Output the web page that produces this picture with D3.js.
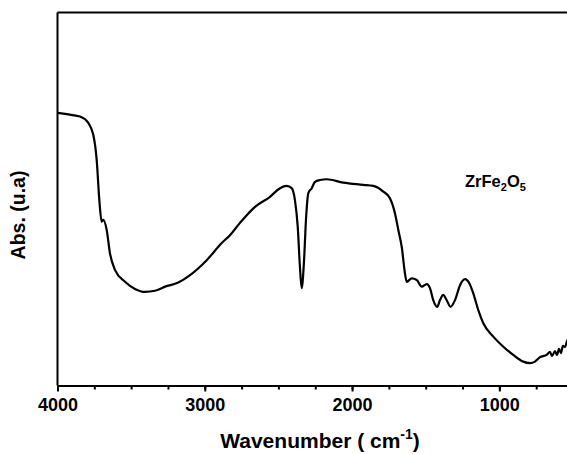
<!DOCTYPE html>
<html>
<head>
<meta charset="utf-8">
<script src="https://cdn.jsdelivr.net/npm/d3@7"></script>
<style>
  body { margin: 0; background: #fff; overflow: hidden; }
  svg { display: block; font-family: "Liberation Sans", Arial, sans-serif; font-weight: bold; }
</style>
</head>
<body>
<div id="chart"></div>
<script>
// FTIR spectrum of ZrFe2O5 (absorbance in arbitrary units)
const wavenumber = [4000, 3949, 3847, 3791, 3757, 3734, 3716, 3700, 3689, 3666, 3644, 3610, 3542, 3474, 3406, 3338, 3270, 3180, 3100, 2987, 2885, 2829, 2761, 2659, 2557, 2489, 2444, 2410, 2388, 2369, 2354, 2342, 2326, 2313, 2297, 2274, 2252, 2218, 2172, 2060, 1924, 1856, 1788, 1743, 1709, 1686, 1663, 1641, 1629, 1595, 1561, 1527, 1493, 1471, 1449, 1422, 1403, 1381, 1358, 1331, 1301, 1267, 1233, 1204, 1177, 1143, 1109, 1041, 973, 906, 838, 792, 758, 724, 679, 656, 643, 622, 609, 595, 582, 568, 554, 541, 530];
const absorbance = [73.1, 72.8, 72.1, 70.4, 67.2, 60.5, 49.7, 43.9, 44.4, 41.7, 35.5, 31.0, 27.8, 25.9, 25.1, 25.4, 26.5, 27.6, 29.6, 33.6, 38.2, 40.3, 43.6, 47.9, 50.6, 52.9, 53.5, 52.9, 49.7, 42.6, 31.8, 26.1, 33.6, 44.4, 51.6, 52.9, 54.6, 55.1, 55.3, 54.4, 53.8, 53.5, 52.0, 50.2, 46.2, 41.7, 37.2, 30.1, 27.8, 28.7, 28.3, 26.5, 27.2, 26.1, 22.9, 21.1, 22.9, 24.3, 22.9, 21.1, 22.9, 26.9, 28.5, 27.4, 24.7, 20.2, 16.7, 13.1, 10.4, 8.2, 6.4, 6.0, 6.4, 7.6, 8.2, 9.0, 7.9, 9.2, 8.2, 9.8, 8.7, 10.6, 10.3, 11.9, 12.5];
const majorTicks = [4000, 3000, 2000, 1000];
const minorTicks = d3.range(4000, 499, -250);

const width = 567, height = 454;
const margin = { top: 12.5, right: -6, bottom: 68.5, left: 57.5 };

const svg = d3.select("#chart").append("svg")
  .attr("width", width)
  .attr("height", height);

const x = d3.scaleLinear()
  .domain([4000, 500])
  .range([margin.left, width - margin.right]);

const y = d3.scaleLinear()
  .domain([0, 100])
  .range([height - margin.bottom, margin.top]);

const data = wavenumber.map((w, i) => ({ w: w, a: absorbance[i] }));

// spectrum
svg.append("path")
  .datum(data)
  .attr("fill", "none")
  .attr("stroke", "#000")
  .attr("stroke-width", 2.2)
  .attr("stroke-linejoin", "round")
  .attr("d", d3.line().x(d => x(d.w)).y(d => y(d.a)).curve(d3.curveMonotoneX));

// frame: top and left lines
svg.append("line")
  .attr("x1", x(4000)).attr("x2", x(500))
  .attr("y1", y(100)).attr("y2", y(100))
  .attr("stroke", "#000").attr("stroke-width", 2);
svg.append("line")
  .attr("x1", x(4000)).attr("x2", x(4000))
  .attr("y1", y(100)).attr("y2", y(0))
  .attr("stroke", "#000").attr("stroke-width", 2);

// minor ticks
svg.append("g")
  .attr("transform", `translate(0,${y(0)})`)
  .call(d3.axisBottom(x).tickValues(minorTicks).tickSize(4).tickFormat(""))
  .call(g => g.select(".domain").remove())
  .call(g => g.selectAll("line").attr("stroke-width", 2));

// x axis with major ticks
svg.append("g")
  .attr("transform", `translate(0,${y(0)})`)
  .call(d3.axisBottom(x).tickValues(majorTicks).tickSize(6).tickSizeOuter(0).tickPadding(7).tickFormat(d3.format("d")))
  .call(g => g.select(".domain").attr("stroke-width", 2))
  .call(g => g.selectAll("line").attr("stroke-width", 2))
  .call(g => g.selectAll("text")
    .attr("font-size", 18)
    .attr("font-family", "'Liberation Sans', Arial, sans-serif")
    .attr("font-weight", "bold")
    .attr("fill", "#000"));

// axis titles
const xt = svg.append("text")
  .attr("x", 320)
  .attr("y", 447.5)
  .attr("text-anchor", "middle")
  .attr("font-size", 21);
xt.append("tspan").text("Wavenumber (  cm");
xt.append("tspan").attr("font-size", 14).attr("dy", -9).text("-1");
xt.append("tspan").attr("dy", 9).text(")");

svg.append("text")
  .attr("transform", "translate(25,215) rotate(-90)")
  .attr("text-anchor", "middle")
  .attr("font-size", 19.5)
  .text("Abs. (u.a)");

// sample label with subscripts
const lbl = svg.append("text")
  .attr("x", 465)
  .attr("y", 187)
  .attr("font-size", 16.5);
lbl.append("tspan").text("ZrFe");
lbl.append("tspan").attr("font-size", 11).attr("dy", 4).text("2");
lbl.append("tspan").attr("dy", -4).text("O");
lbl.append("tspan").attr("font-size", 11).attr("dy", 4).text("5");
</script>
</body>
</html>
